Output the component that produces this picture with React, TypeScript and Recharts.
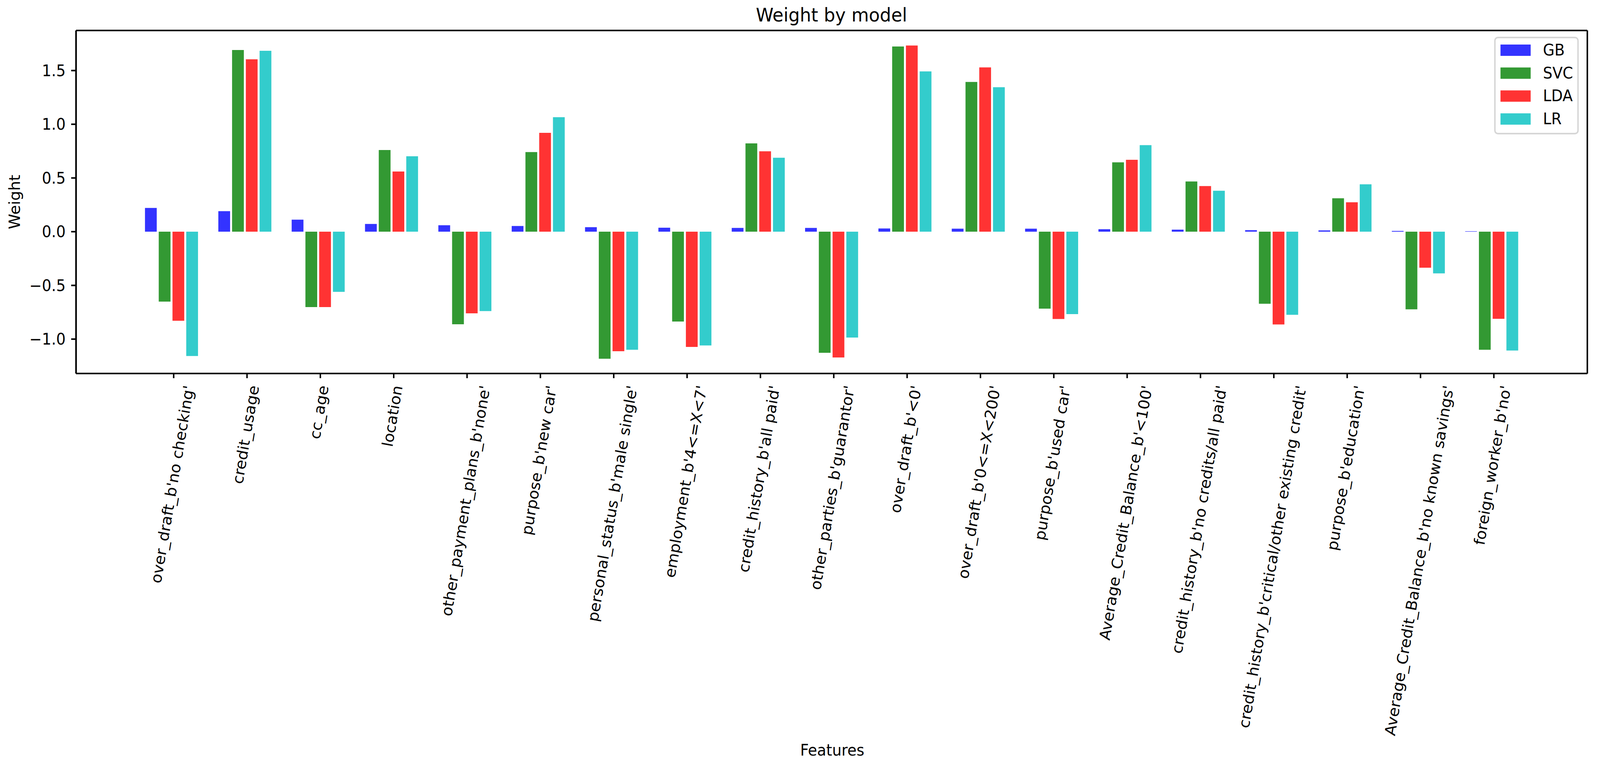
import React from 'react';
import {
  BarChart,
  Bar,
  XAxis,
  YAxis,
  Legend,
  Label,
  CartesianGrid,
  Customized
} from 'recharts';

const features = [
  "over_draft_b'no checking'",
  'credit_usage',
  'cc_age',
  'location',
  "other_payment_plans_b'none'",
  "purpose_b'new car'",
  "personal_status_b'male single'",
  "employment_b'4<=X<7'",
  "credit_history_b'all paid'",
  "other_parties_b'guarantor'",
  "over_draft_b'<0'",
  "over_draft_b'0<=X<200'",
  "purpose_b'used car'",
  "Average_Credit_Balance_b'<100'",
  "credit_history_b'no credits/all paid'",
  "credit_history_b'critical/other existing credit'",
  "purpose_b'education'",
  "Average_Credit_Balance_b'no known savings'",
  "foreign_worker_b'no'"
];

const gbWeights = [0.221, 0.191, 0.112, 0.072, 0.06, 0.053, 0.042, 0.037, 0.035, 0.035, 0.03, 0.028, 0.028, 0.023, 0.019, 0.014, 0.012, 0.007, 0.004];
const svcWeights = [-0.651, 1.691, -0.702, 0.76, -0.862, 0.741, -1.183, -0.836, 0.822, -1.127, 1.724, 1.394, -0.716, 0.646, 0.467, -0.671, 0.311, -0.723, -1.099];
const ldaWeights = [-0.829, 1.605, -0.702, 0.56, -0.76, 0.92, -1.113, -1.073, 0.748, -1.171, 1.733, 1.529, -0.813, 0.669, 0.425, -0.864, 0.274, -0.335, -0.811];
const lrWeights = [-1.157, 1.684, -0.56, 0.702, -0.739, 1.066, -1.099, -1.059, 0.688, -0.985, 1.492, 1.345, -0.767, 0.806, 0.381, -0.774, 0.441, -0.388, -1.106];

const models = ['GB', 'SVC', 'LDA', 'LR'];
const modelColors = ['#3333ff', '#339933', '#ff3333', '#33cccc'];

const yTicks = [-1.0, -0.5, 0.0, 0.5, 1.0, 1.5];
const yDomain = [-1.32, 1.873];

const rows = features.map((feature, i) => ({
  feature,
  GB: gbWeights[i],
  SVC: svcWeights[i],
  LDA: ldaWeights[i],
  LR: lrWeights[i]
}));

const W = 4293;
const H = 1953;
const FONT = '"DejaVu Sans", sans-serif';
const FS = 40;

let measureCtx: CanvasRenderingContext2D | null = null;
const textWidth = (s: string) => {
  if (!measureCtx) {
    measureCtx = document.createElement('canvas').getContext('2d');
  }
  if (!measureCtx) return s.length * FS * 0.6;
  measureCtx.font = `${FS}px "DejaVu Sans"`;
  return measureCtx.measureText(s).width;
};

// matplotlib-style rotation=80, ha=center, va=top
const RotatedTick = (props: any) => {
  const { x, y, payload } = props;
  const label = String(payload.value);
  const L = textWidth(label);
  const asc = 0.76 * FS;
  const desc = 0.24 * FS;
  const px = x + 0.0868 * L + 0.4924 * (asc - desc);
  const py = y + 0.174 * asc;
  return (
    <text
      x={px}
      y={py}
      transform={`rotate(-80, ${px}, ${py})`}
      textAnchor="end"
      fontFamily={FONT}
      fontSize={FS}
      fill="#000"
    >
      {label}
    </text>
  );
};

const fmtY = (v: number) => (v < 0 ? '\u2212' + Math.abs(v).toFixed(1) : v.toFixed(1));

const LegendBox = () => (
  <svg width={230} height={252}>
    <rect x={2} y={2} width={223} height={246} rx={8} ry={8} fill="#fff" stroke="#d6d6d6" strokeWidth={4} />
    {models.map((m, i) => (
      <g key={m}>
        <rect x={17} y={20 + i * 58.7} width={81} height={29} fill={modelColors[i]} />
        <text x={131} y={48 + i * 58.7} fontFamily={FONT} fontSize={FS} fill="#000">
          {m}
        </text>
      </g>
    ))}
  </svg>
);

const spine = { stroke: '#000', strokeWidth: 4 };

export default function App() {
  // the real viewport can be narrower than the requested window; fit the chart to it
  document.documentElement.style.overflow = 'hidden';
  const vw = document.documentElement.clientWidth || window.innerWidth || W;
  const vh = document.documentElement.clientHeight || window.innerHeight || H;
  const sx = vw / W;
  const sy = vh / H;
  return (
    <div
      style={{
        position: 'absolute',
        left: 0,
        top: 0,
        width: W,
        height: H,
        background: '#fff',
        transform: `scale(${sx}, ${sy})`,
        transformOrigin: '0 0'
      }}
    >
      <BarChart
        width={W}
        height={H}
        data={rows}
        margin={{ top: 78, right: 34, left: 0, bottom: 397 }}
        barSize={31.6}
        barGap={5.3}
      >
        <CartesianGrid
          xAxisId="ticks"
          stroke="#000"
          strokeWidth={4}
          horizontalCoordinatesGenerator={({ offset }: any) => [offset.top, offset.top + offset.height]}
          verticalCoordinatesGenerator={({ offset }: any) => [offset.left, offset.left + offset.width]}
        />
        <XAxis
          xAxisId="bars"
          dataKey="feature"
          hide
          height={0}
          padding={{ left: 158, right: 158 }}
        />
        <XAxis
          xAxisId="ticks"
          dataKey="feature"
          height={600}
          padding={{ left: 163.6, right: 152.4 }}
          axisLine={spine}
          tickLine={spine}
          tickSize={12}
          tickMargin={16}
          interval={0}
          tick={<RotatedTick />}
        >
          <Label
            content={() => (
              <text x={2233} y={1934} textAnchor="middle" fontFamily={FONT} fontSize={FS} fill="#000">
                Features
              </text>
            )}
          />
        </XAxis>
        <YAxis
          domain={yDomain}
          allowDataOverflow
          ticks={yTicks}
          tickFormatter={fmtY}
          width={204}
          axisLine={spine}
          tickLine={spine}
          tickSize={13}
          tickMargin={15}
          tick={{ fontFamily: FONT, fontSize: FS, fill: '#000' }}
        >
          <Label
            content={() => (
              <text
                x={53}
                y={517}
                transform="rotate(-90, 53, 517)"
                textAnchor="middle"
                fontFamily={FONT}
                fontSize={FS}
                fill="#000"
              >
                Weight
              </text>
            )}
          />
        </YAxis>
        <Legend
          layout="vertical"
          align="center"
          verticalAlign="middle"
          content={<LegendBox />}
          wrapperStyle={{ left: 4009, top: 94, width: 230, height: 252 }}
        />
        {models.map((m, i) => (
          <Bar key={m} xAxisId="bars" dataKey={m} name={m} fill={modelColors[i]} isAnimationActive={false} />
        ))}
        <Customized
          component={() => (
            <text x={2231} y={55} textAnchor="middle" fontFamily={FONT} fontSize={48} fill="#000">
              Weight by model
            </text>
          )}
        />
      </BarChart>
    </div>
  );
}
